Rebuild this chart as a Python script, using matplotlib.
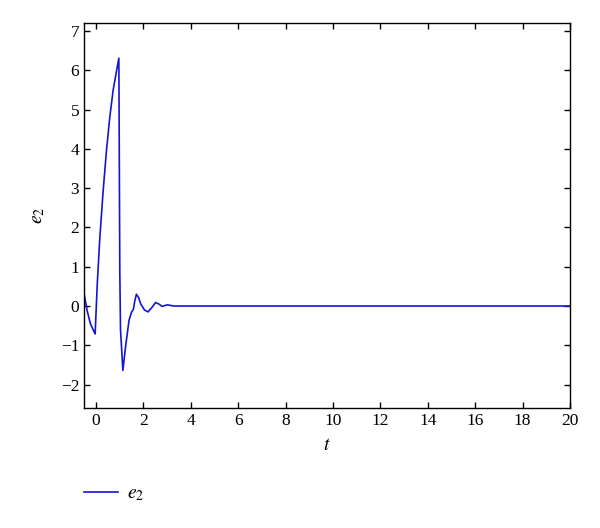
import matplotlib
matplotlib.use("Agg")
import matplotlib.pyplot as plt
from matplotlib.lines import Line2D

t = [-0.51, -0.37, -0.23, -0.07, -0.03, 0.06, 0.17, 0.31, 0.45, 0.59, 0.73, 0.88,
     0.97, 1.01, 1.04, 1.14, 1.25, 1.40, 1.51, 1.58, 1.64, 1.71,
     1.80, 1.89, 2.05, 2.20, 2.36, 2.52, 2.66, 2.80, 3.01, 3.30, 4.0, 6.0, 10.0,
     15.0, 20.0]
e2 = [0.36, -0.11, -0.45, -0.66, -0.71, 0.57, 1.76, 2.95, 3.97, 4.82, 5.5, 6.01,
      6.31, 0.9, -0.6, -1.64, -1.05, -0.36, -0.15, -0.09, 0.12, 0.30,
      0.22, 0.06, -0.10, -0.15, -0.04, 0.09, 0.05, -0.01, 0.03, 0.0, 0.0, 0.0, 0.0,
      0.0, 0.0]

xticks = [0, 2, 4, 6, 8, 10, 12, 14, 16, 18, 20]
yticks = [-2, -1, 0, 1, 2, 3, 4, 5, 6, 7]

plt.rcParams['font.family'] = ['Liberation Serif', 'DejaVu Serif']
plt.rcParams['mathtext.fontset'] = 'stix'

fig = plt.figure(figsize=(6.0, 5.28), dpi=100)
ax = fig.add_axes([0.14, 0.227, 0.81, 0.729])
color = '#1414d8'
ax.plot(t, e2, color=color, lw=1.2)
ax.set_xlim(-0.5, 20)
ax.set_ylim(-2.6, 7.2)
ax.set_xticks(xticks)
ax.set_yticks(yticks)
ax.tick_params(direction='in', top=True, right=True, labelsize=12.5, length=4, width=1)
for s in ax.spines.values():
    s.set_linewidth(1.0)
ax.set_xlabel('$t$', fontsize=14, labelpad=6)
ax.set_ylabel('$e_2$', fontsize=14, labelpad=10, rotation=90)

handle = Line2D([0], [0], color=color, lw=1.2)
fig.legend([handle], ['$e_2$'], loc='center left', bbox_to_anchor=(0.11, 0.064),
           frameon=False, fontsize=14, handlelength=1.75, handletextpad=0.5)

fig.savefig('out.png', dpi=100)
